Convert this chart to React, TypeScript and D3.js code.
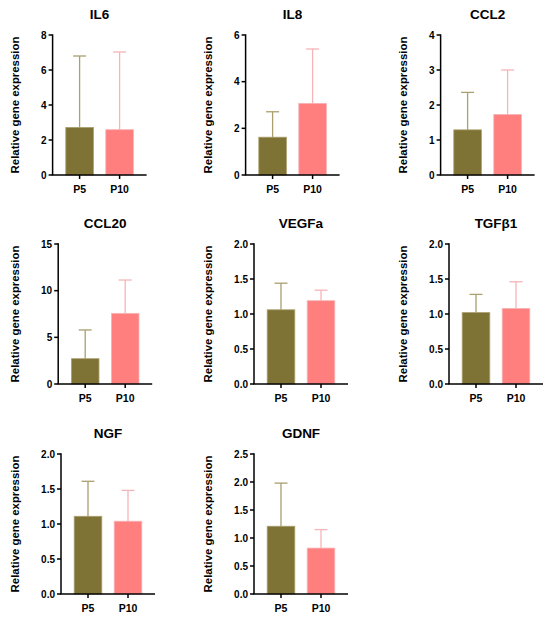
import React from 'react';
import * as d3 from 'd3';

const genes = ['IL6', 'IL8', 'CCL2', 'CCL20', 'VEGFa', 'TGFβ1', 'NGF', 'GDNF'];
const groups = ['P5', 'P10'];
const p5Mean = [2.72, 1.62, 1.29, 2.71, 1.06, 1.02, 1.11, 1.21];
const p5Sd = [4.08, 1.09, 1.07, 3.08, 0.38, 0.26, 0.5, 0.77];
const p10Mean = [2.59, 3.07, 1.73, 7.57, 1.19, 1.08, 1.04, 0.82];
const p10Sd = [4.44, 2.33, 1.27, 3.57, 0.15, 0.38, 0.44, 0.33];
const yMax = [8, 6, 4, 15, 2, 2, 2, 2.5];
const yStep = [2, 2, 1, 5, 0.5, 0.5, 0.5, 0.5];
const yDecimals = [0, 0, 0, 0, 1, 1, 1, 1];

const fills = ['#7f7235', '#ff7f7f'];
const errColors = ['#aa9f6e', '#f6b4b7'];
const font = 'Arial, "Liberation Sans", Helvetica, sans-serif';

const cellLeft = [0, 193, 388];
const rowTop = [35, 244, 454];
const plotH = 140;
const plotW = 94;

// rough width of bold tick labels at 10px
const labelWidth = (s: string) =>
  s.split('').reduce((w, c) => w + (c === '.' ? 2.8 : 5.6), 0);

const Panel: React.FC<{ i: number }> = ({ i }) => {
  const col = i % 3;
  const row = Math.floor(i / 3);
  const fmt = d3.format(`.${yDecimals[i]}f`);
  const ticks = d3.range(0, yMax[i] + yStep[i] / 2, yStep[i]);
  const widest = d3.max(ticks, t => labelWidth(fmt(t))) || 0;
  const x0 = cellLeft[col] + 47 + widest;
  const top = rowTop[row];

  const y = d3.scaleLinear().domain([0, yMax[i]]).range([top + plotH, top]);
  const x = d3.scaleBand().domain(groups).range([x0, x0 + plotW])
    .paddingInner(0.31).paddingOuter(0.33);

  const means = [p5Mean[i], p10Mean[i]];
  const sds = [p5Sd[i], p10Sd[i]];
  const bw = x.bandwidth();

  return (
    <g fontFamily={font} fontWeight="bold">
      <text x={x0 + plotW / 2} y={top - 16} textAnchor="middle" fontSize={13.5}>
        {genes[i]}
      </text>
      <text
        transform={`translate(${cellLeft[col] + 15},${top + plotH / 2}) rotate(-90)`}
        textAnchor="middle" dominantBaseline="central" fontSize={11.4}
      >
        Relative gene expression
      </text>

      {groups.map((g, k) => {
        const cx = (x(g) || 0) + bw / 2;
        const yTop = y(means[k]);
        const yErr = y(means[k] + sds[k]);
        return (
          <g key={g}>
            <line x1={cx} x2={cx} y1={yTop} y2={yErr} stroke={errColors[k]} strokeWidth={1.3} />
            <line x1={cx - 6.5} x2={cx + 6.5} y1={yErr} y2={yErr} stroke={errColors[k]} strokeWidth={1.3} />
            <rect
              x={x(g)} y={yTop} width={bw} height={y(0) - yTop}
              fill={fills[k]} stroke={errColors[k]} strokeWidth={0.8}
            />
          </g>
        );
      })}

      {/* y axis */}
      <line x1={x0} x2={x0} y1={top - 0.7} y2={top + plotH} stroke="#000" strokeWidth={1.5} />
      {ticks.map(t => (
        <g key={t}>
          <line x1={x0 - 4} x2={x0} y1={y(t)} y2={y(t)} stroke="#000" strokeWidth={1.5} />
          <text x={x0 - 6} y={y(t)} textAnchor="end" dominantBaseline="central" fontSize={10}>
            {fmt(t)}
          </text>
        </g>
      ))}

      {/* x axis */}
      <line x1={x0 - 0.7} x2={x0 + plotW} y1={y(0)} y2={y(0)} stroke="#000" strokeWidth={1.5} />
      {groups.map(g => {
        const cx = (x(g) || 0) + bw / 2;
        return (
          <g key={g}>
            <line x1={cx} x2={cx} y1={y(0)} y2={y(0) + 4} stroke="#000" strokeWidth={1.5} />
            <text x={cx} y={y(0) + 18} textAnchor="middle" fontSize={10.5}>{g}</text>
          </g>
        );
      })}
    </g>
  );
};

export default function App() {
  return (
    <svg
      width={550} height={620} viewBox="0 0 550 620"
      style={{ position: 'absolute', left: 0, top: 0, background: '#fff' }}
    >
      <rect width={550} height={620} fill="#fff" />
      {genes.map((_, i) => <Panel key={genes[i]} i={i} />)}
    </svg>
  );
}
